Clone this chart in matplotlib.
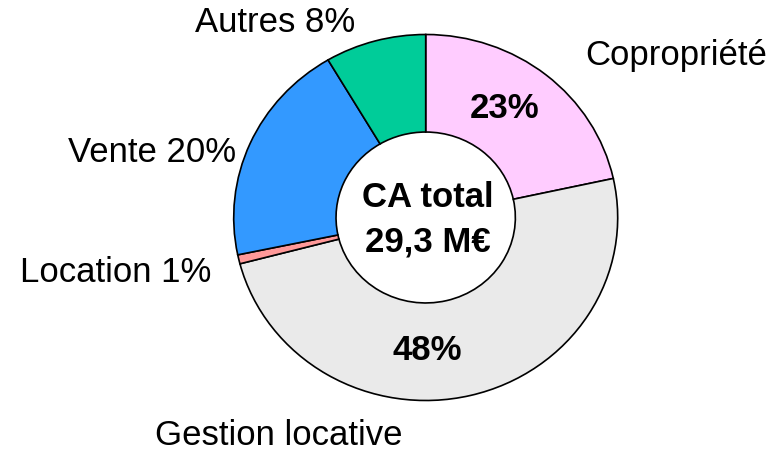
import matplotlib
matplotlib.use("Agg")
import matplotlib.pyplot as plt

# wedge sizes as drawn (labels show the rounded/quoted shares)
segments = ['Copropriété', 'Gestion locative', 'Location', 'Vente', 'Autres']
shares = [21.6, 49.4, 0.8, 19.8, 8.5]
share_labels = ['23%', '48%', '1%', '20%', '8%']
colors = ['#FFCCFF', '#EAEAEA', '#FF9999', '#3399FF', '#00CC99']
center_text = ['CA total', '29,3 M€']

W, H = 784, 469
CX, CY = 425.7, 217.5      # pie centre in pixels (from top)
RX, RY = 192.0, 183.0      # outer radius in pixels

plt.rcParams['font.family'] = ['Liberation Sans', 'DejaVu Sans']

fig = plt.figure(figsize=(W / 100, H / 100), dpi=100)
ax = fig.add_axes([0, 0, 1, 1])

ax.pie(shares, colors=colors, startangle=90, counterclock=False, radius=1,
       wedgeprops=dict(width=0.533, edgecolor='black', linewidth=1.2))
ax.set_aspect('auto')
ax.set_xlim(-CX / RX, (W - CX) / RX)
ax.set_ylim(-(H - CY) / RY, CY / RY)
ax.axis('off')


def px(x, y):
    return (x - CX) / RX, (CY - y) / RY


fs = 25
ax.text(*px(275, 22), 'Autres ' + share_labels[4], fontsize=fs, ha='center', va='center')
ax.text(*px(676, 55), segments[0], fontsize=fs, ha='center', va='center')
ax.text(*px(505, 108), share_labels[0], fontsize=fs, ha='center', va='center', weight='bold')
ax.text(*px(152, 152), segments[3] + ' ' + share_labels[3], fontsize=fs, ha='center', va='center')
ax.text(*px(116, 272), segments[2] + ' ' + share_labels[2], fontsize=fs, ha='center', va='center')
ax.text(*px(427, 350), share_labels[1], fontsize=fs, ha='center', va='center', weight='bold')
ax.text(*px(279, 435), segments[1], fontsize=fs, ha='center', va='center')
ax.text(*px(428, 197), center_text[0], fontsize=fs, ha='center', va='center', weight='bold')
ax.text(*px(428, 242), center_text[1], fontsize=fs, ha='center', va='center', weight='bold')

fig.savefig('out.png', dpi=100)
